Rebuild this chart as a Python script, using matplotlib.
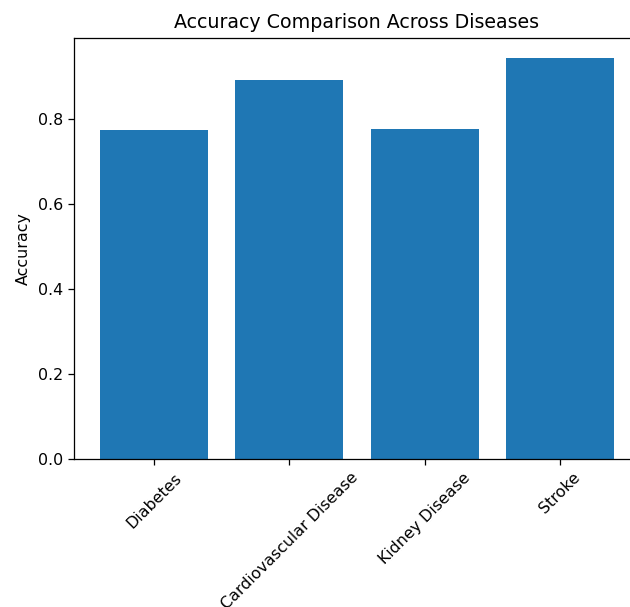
import matplotlib
matplotlib.use("Agg")
import matplotlib.pyplot as plt

diseases = ["Diabetes", "Cardiovascular Disease", "Kidney Disease", "Stroke"]
accuracy = [0.774, 0.891, 0.777, 0.943]

# reference looks rendered at ~114 dpi and cropped on the right
dpi = 114
fig = plt.figure(figsize=(630 / dpi, 607 / dpi), dpi=dpi)
ax = fig.add_axes([74 / 630, 1 - 459 / 607, 566 / 630, 421 / 607])
ax.bar(diseases, accuracy, color="#1f77b4")
ax.set_ylabel("Accuracy")
ax.set_title("Accuracy Comparison Across Diseases")
plt.setp(ax.get_xticklabels(), rotation=45)

fig.savefig("out.png", dpi=dpi)
